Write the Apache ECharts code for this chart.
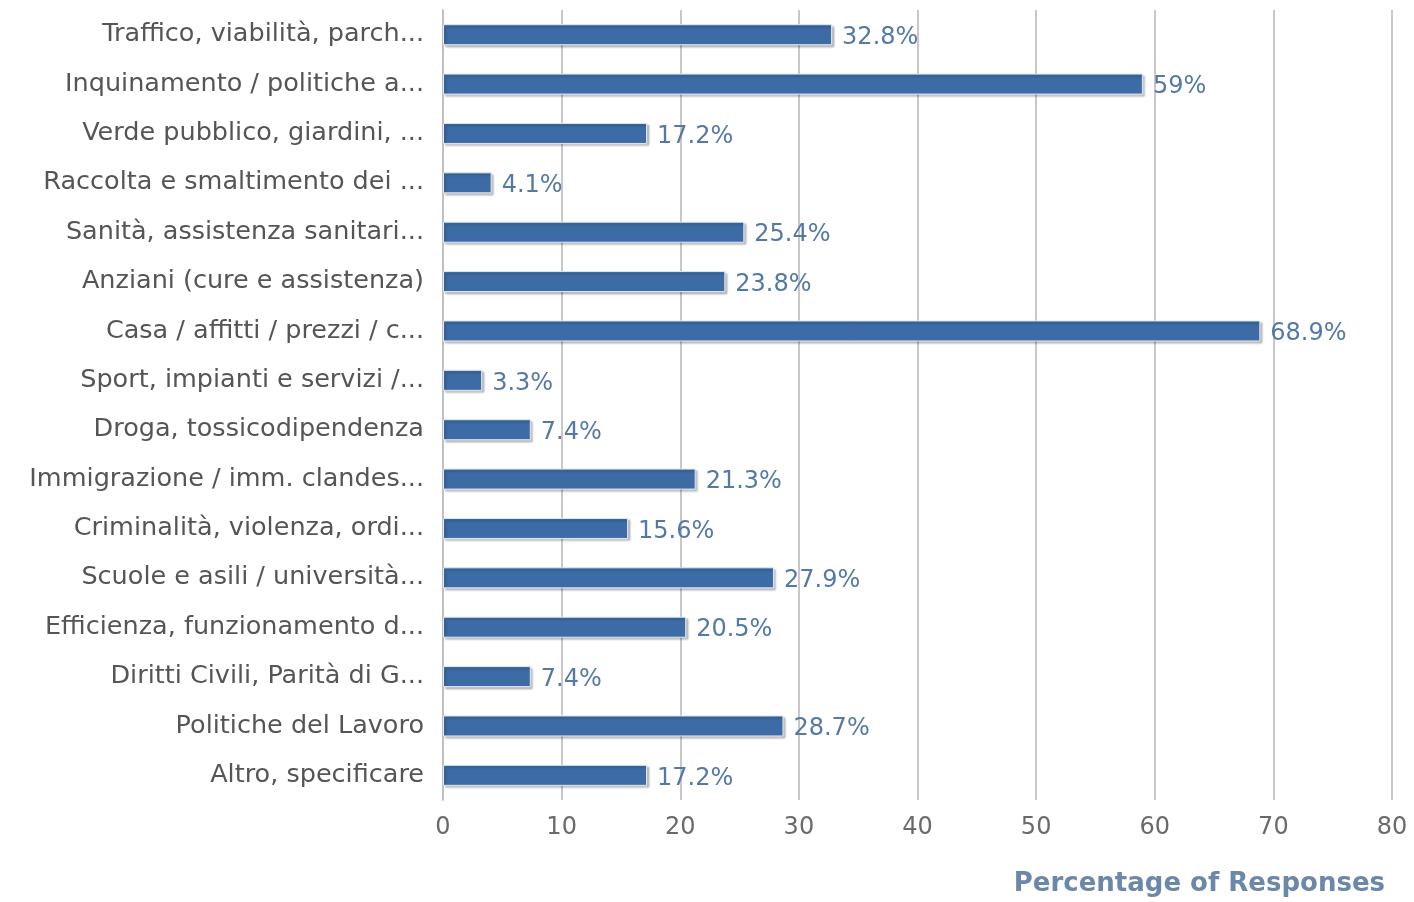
<!DOCTYPE html>
<html>
<head>
<meta charset="utf-8">
<script src="https://cdn.jsdelivr.net/npm/echarts@6/dist/echarts.min.js"></script>
<style>
    html, body { margin: 0; padding: 0; background: #fff; }
    #chart { width: 1414px; height: 902px; }
</style>
</head>
<body>
<div id="chart"></div>
<script>
// categories, top to bottom
const categories = [
    'Traffico, viabilità, parch...',
    'Inquinamento / politiche a...',
    'Verde pubblico, giardini, ...',
    'Raccolta e smaltimento dei ...',
    'Sanità, assistenza sanitari...',
    'Anziani (cure e assistenza)',
    'Casa / affitti / prezzi / c...',
    'Sport, impianti e servizi /...',
    'Droga, tossicodipendenza',
    'Immigrazione / imm. clandes...',
    'Criminalità, violenza, ordi...',
    'Scuole e asili / università...',
    'Efficienza, funzionamento d...',
    'Diritti Civili, Parità di G...',
    'Politiche del Lavoro',
    'Altro, specificare'
];
const percentages = [32.8, 59, 17.2, 4.1, 25.4, 23.8, 68.9, 3.3, 7.4, 21.3, 15.6, 27.9, 20.5, 7.4, 28.7, 17.2];
const axisName = 'Percentage of Responses';

const myChart = echarts.init(document.getElementById('chart'));

const option = {
    animation: false,
    textStyle: { fontFamily: 'DejaVu Sans' },
    title: {
        text: axisName,
        right: 24,
        bottom: 0,
        textStyle: {
            fontSize: 26,
            fontWeight: 'bold',
            color: '#6c88a8',
            fontFamily: 'DejaVu Sans'
        }
    },
    grid: {
        left: 443,
        right: 22,
        top: 10,
        bottom: 102
    },
    xAxis: {
        type: 'value',
        min: 0,
        max: 80,
        interval: 10,
        axisLine: { show: false },
        axisTick: { show: false },
        axisLabel: {
            fontSize: 24,
            color: '#6a6a6a',
            margin: 16
        },
        splitLine: {
            lineStyle: { color: '#c8c8c8', width: 2 }
        }
    },
    yAxis: {
        type: 'category',
        inverse: true,
        data: categories,
        axisLine: {
            lineStyle: { color: '#c0c0c0', width: 2 }
        },
        axisTick: {
            length: 9,
            lineStyle: { color: '#c0c0c0', width: 2 }
        },
        axisLabel: {
            fontSize: 25.5,
            color: '#555',
            margin: 19
        }
    },
    series: [
        {
            type: 'bar',
            data: percentages,
            barWidth: 21,
            itemStyle: {
                color: '#3d6ba5',
                borderColor: '#dce8f4',
                borderWidth: 1,
                shadowColor: 'rgba(0,0,0,0.25)',
                shadowBlur: 2,
                shadowOffsetX: 2,
                shadowOffsetY: 2
            },
            label: {
                show: true,
                position: 'right',
                distance: 10,
                offset: [0, 3],
                fontSize: 24,
                color: '#5479a6',
                formatter: p => p.value + '%'
            }
        }
    ]
};
myChart.setOption(option);
</script>
</body>
</html>
